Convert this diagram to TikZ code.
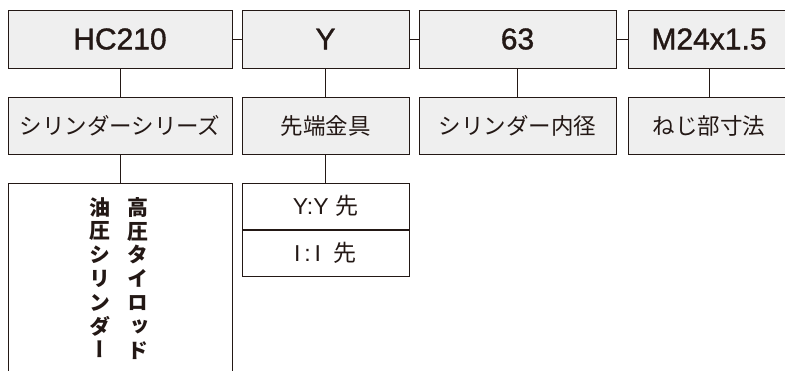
\documentclass[tikz,border=0pt]{standalone}
\usepackage{fontspec}
\usepackage{xcolor}
\usetikzlibrary{positioning}
\setmainfont{Liberation Sans}
\newfontfamily\codefont[FakeBold=1.2]{Liberation Sans}
\newfontfamily\cjk{Noto Sans CJK JP}
\newfontfamily\cjkv[RawFeature=+vert]{Noto Sans CJK JP}
\definecolor{inkc}{HTML}{231815}
\definecolor{boxfill}{HTML}{EFEFEF}

\begin{document}
\begin{tikzpicture}[x=1pt, y=-1pt, node distance=9pt, inkc,
		topbox/.style={draw=inkc, fill=boxfill, line width=1pt, minimum height=58pt, inner sep=0pt, font=\codefont\fontsize{30}{32}\selectfont},
		namebox/.style={draw=inkc, fill=boxfill, line width=1pt, minimum height=57pt, inner sep=0pt, font=\cjk\fontsize{22.5}{24}\selectfont},
		optbox/.style={draw=inkc, fill=white, line width=1pt, minimum width=167pt, minimum height=46pt, inner sep=0pt, font=\fontsize{23}{25}\selectfont},
		tate/.style={anchor=north, align=center, inner sep=0pt, font=\cjkv\bfseries\fontsize{21}{23.8}\selectfont},
		link/.style={draw=inkc, line width=1pt}]
		\useasboundingbox (0,0) rectangle (785,370);
		\clip (0,0) rectangle (785,370);

		% model code
		\node[topbox, minimum width=224pt] (hc) at (120,39) {HC210};
		\node[topbox, minimum width=167pt, right=of hc] (tip) {Y};
		\node[topbox, minimum width=197pt, right=of tip] (bore) {63};
		\node[topbox, minimum width=162pt, right=11pt of bore] (thread) {M24x1.5};

		% meaning
		\node[namebox, minimum width=224pt, below=28pt of hc] (series) {シリンダーシリーズ};
		\node[namebox, minimum width=167pt, below=28pt of tip] (fitting) {先端金具};
		\node[namebox, minimum width=197pt, below=28pt of bore] (borename) {シリンダー内径};
		\node[namebox, minimum width=162pt, below=28pt of thread] (threadname) {ねじ部寸法};

		% details
		\node[draw=inkc, line width=1pt, minimum width=224pt, minimum height=210pt, inner sep=0pt, below=28pt of series] (seriesbox) {};
		\node[tate] (tateR) at (138,197) {高\\圧\\タ\\イ\\ロ\\ッ\\ド};
		\node[tate] (tateL) at (100,197) {油\\圧\\シ\\リ\\ン\\ダ\\ー};
		\node[optbox, below=28pt of fitting] (optY) {Y:Y\ {\cjk 先}};
		\node[optbox, below=0pt of optY] (optI) {I\,:\,I\ \ {\cjk 先}};

		\path[link] (hc) -- (tip);
		\path[link] (tip) -- (bore);
		\path[link] (bore) -- (thread);
		\path[link] (hc) -- (series);
		\path[link] (tip) -- (fitting);
		\path[link] (bore) -- (borename);
		\path[link] (thread) -- (threadname);
		\path[link] (series) -- (seriesbox);
		\path[link] (fitting) -- (optY);
	\end{tikzpicture}
\end{document}
